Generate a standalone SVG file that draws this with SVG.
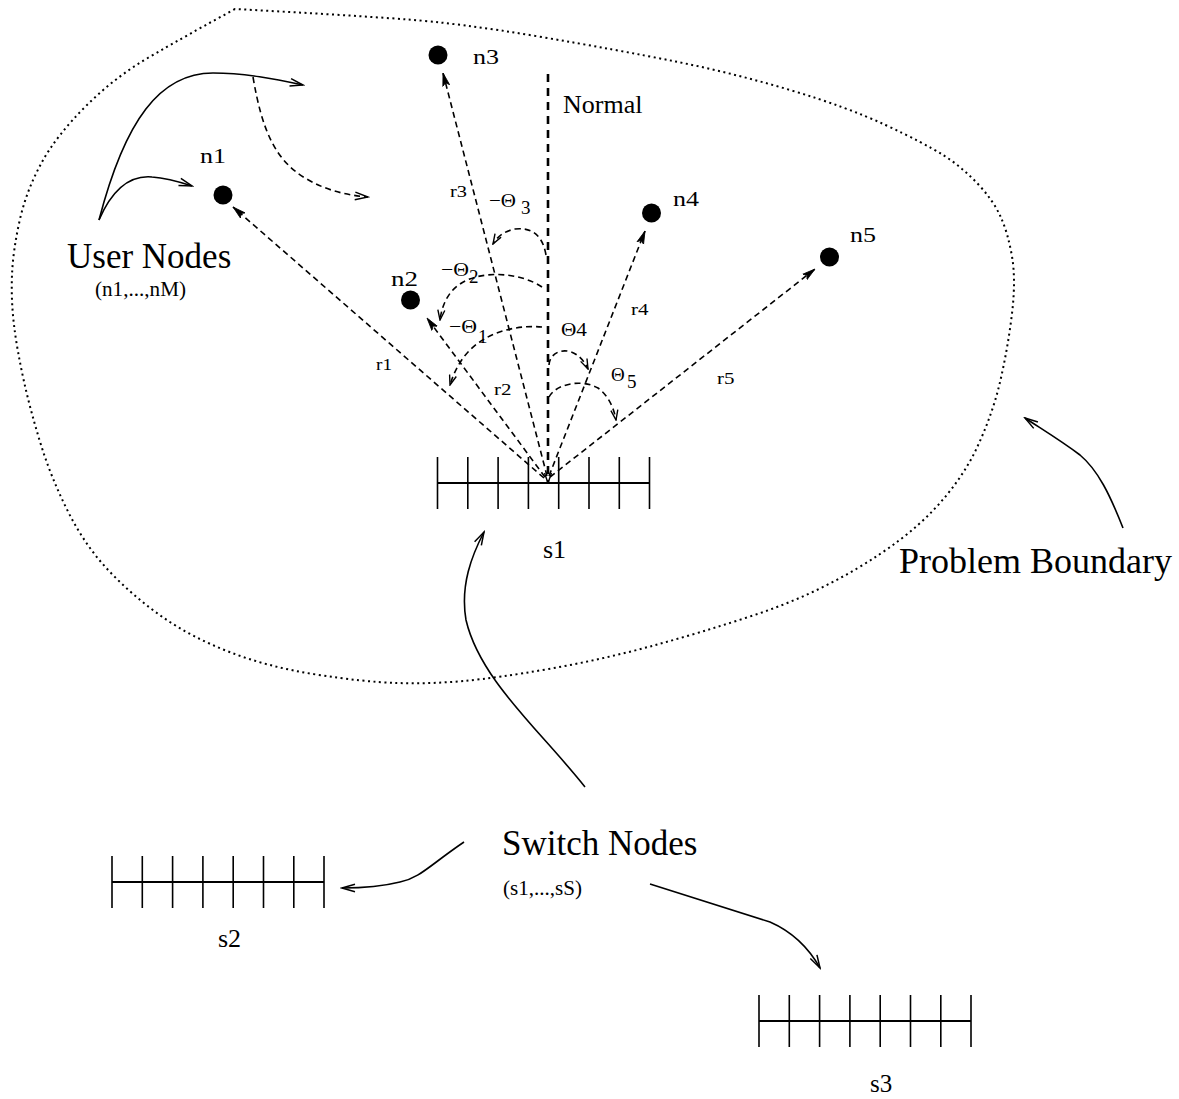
<svg xmlns="http://www.w3.org/2000/svg" width="1179" height="1099" viewBox="0 0 1179 1099">
  <style>
    .t { font-family: "Liberation Serif", "Times New Roman", serif; fill: #000; }
    .big { font-size: 35px; }
    .mid { font-size: 26px; }
    .lab { font-size: 22px; }
    .cap { font-size: 20px; }
    .rl { font-size: 17px; }
    .th { font-size: 19px; }
    .boundary { fill: none; stroke: #000; stroke-width: 2; stroke-dasharray: 2 3.5; }
    .solid { fill: none; stroke: #000; stroke-width: 1.6; }
    .dash { fill: none; stroke: #000; stroke-width: 1.6; stroke-dasharray: 6 4; }
    .normal { fill: none; stroke: #000; stroke-width: 2.6; stroke-dasharray: 8 6; }
    .bar { fill: none; stroke: #000; stroke-width: 2.2; }
    .tick { fill: none; stroke: #000; stroke-width: 1.6; }
    .dot { fill: #000; }
  </style>
  <defs>
    <marker id="open" markerUnits="userSpaceOnUse" markerWidth="16" markerHeight="10" viewBox="0 0 16 10" refX="14" refY="5" orient="auto">
      <path d="M1,1.2 L14,5 L1,8.8" fill="none" stroke="#000" stroke-width="1.5" stroke-dasharray="none"/>
    </marker>
    <marker id="barb" markerUnits="userSpaceOnUse" markerWidth="14" markerHeight="9" viewBox="0 0 14 9" refX="13" refY="4.5" orient="auto">
      <path d="M0,1 L13,4.5 L0,8 L3,4.5 Z" fill="#000" stroke="#000" stroke-width="0.8" stroke-dasharray="none"/>
    </marker>
    <marker id="small" markerUnits="userSpaceOnUse" markerWidth="12" markerHeight="9" viewBox="0 0 12 9" refX="11" refY="4.5" orient="auto">
      <path d="M1,1 L11,4.5 L1,8" fill="none" stroke="#000" stroke-width="1.4" stroke-dasharray="none"/>
    </marker>
    <g id="switch">
      <line class="bar" x1="0" y1="26" x2="212" y2="26"/>
      <path class="tick" d="M0,0 V52 M30.3,0 V52 M60.6,0 V52 M90.9,0 V52 M121.2,0 V52 M151.5,0 V52 M181.8,0 V52 M212,0 V52"/>
    </g>
  </defs>

  <rect width="1179" height="1099" fill="#fff"/>

  <!-- dotted problem boundary -->
  <path id="boundary" class="boundary" d="M235,9 L209.5,23 Q184,37 149.5,57 Q115,77 86,106 Q57,135 42,162 Q27,189 20,219 Q13,250 12,275 Q11,300 14,325 Q17,350 24,381.5 Q31,413 41.5,446.5 Q52,480 69,513.5 Q86,547 110,572 Q134,597 162.5,617 Q191,637 229.5,652 Q268,667 316,674.5 Q364,682 397,683 Q430,684 463.5,681 Q497,678 548.5,669 Q600,660 650,646.5 Q700,633 754.5,615 Q809,597 857,568.5 Q905,540 933.5,510 Q962,480 977.5,446.5 Q993,413 1000.5,380 Q1008,347 1012,313.5 Q1016,280 1012,256.5 Q1008,233 1000.5,216.5 Q993,200 977.5,183.5 Q962,167 943,155 Q924,143 885.5,125 Q847,107 790,90 Q733,73 675.5,61.5 Q618,50 538.5,36.5 Q459,23 401.5,19 Q344,15 289.5,12 Z"/>

  <!-- connectors -->
  <g id="connectors">
    <!-- radial dashed links from s1 to the user nodes -->
    <path class="dash" d="M544,478 L233,207" marker-end="url(#barb)"/>
    <path class="dash" d="M545,477 L427,318" marker-end="url(#barb)"/>
    <path class="dash" d="M547,476 L443,73" marker-end="url(#barb)"/>
    <path class="dash" d="M549,476 L645,231" marker-end="url(#barb)"/>
    <path class="dash" d="M550,477 L815,269" marker-end="url(#barb)"/>
    <!-- normal -->
    <path class="normal" d="M548,74 L548,483" marker-end="url(#small)"/>
    <!-- angle arcs -->
    <path class="dash" d="M546,255 Q541,226 515,229 Q500,232 493,244" marker-end="url(#small)"/>
    <path class="dash" d="M542,287 C520,272 480,270 460,284 C448,292 442,305 440,320" marker-end="url(#small)"/>
    <path class="dash" d="M542,327 C520,325 490,330 470,350 C460,360 454,372 450,385" marker-end="url(#small)"/>
    <path class="dash" d="M549,365 C550,348 576,343 588,369" marker-end="url(#small)"/>
    <path class="dash" d="M549,397 C555,385 580,378 598,388 C608,395 614,408 616,420" marker-end="url(#small)"/>
    <!-- callout arrows -->
    <path class="solid" d="M99,220 C125,120 160,73 213,73 C245,73 275,79 303,85" marker-end="url(#open)"/>
    <path class="solid" d="M99,220 C112,190 130,175 152,177 C168,178 180,182 192,186" marker-end="url(#open)"/>
    <path class="dash" d="M253,77 C262,130 275,160 305,178 C325,190 345,195 368,197" marker-end="url(#open)"/>
    <path class="solid" d="M585,787 C540,730 480,680 466,620 C460,585 472,555 484,532" marker-end="url(#open)"/>
    <path class="solid" d="M464,842 C430,865 420,878 400,882 C380,887 360,888 342,888" marker-end="url(#open)"/>
    <path class="solid" d="M650,884 L770,922 Q802,936 820,968" marker-end="url(#open)"/>
    <path class="solid" d="M1123,528 C1110,495 1098,470 1080,455 C1060,440 1040,428 1025,418" marker-end="url(#open)"/>
  </g>

  <!-- user nodes -->
  <g id="n1"><circle class="dot" cx="223" cy="195" r="9.5"/><text class="t lab" x="200" y="163" textLength="26" lengthAdjust="spacingAndGlyphs">n1</text></g>
  <g id="n2"><circle class="dot" cx="410.5" cy="300" r="9.5"/><text class="t lab" x="391" y="286" textLength="27" lengthAdjust="spacingAndGlyphs">n2</text></g>
  <g id="n3"><circle class="dot" cx="438" cy="55" r="9.5"/><text class="t lab" x="473" y="64" textLength="26" lengthAdjust="spacingAndGlyphs">n3</text></g>
  <g id="n4"><circle class="dot" cx="651.5" cy="213" r="9.5"/><text class="t lab" x="673" y="206" textLength="26" lengthAdjust="spacingAndGlyphs">n4</text></g>
  <g id="n5"><circle class="dot" cx="829.5" cy="257" r="9.5"/><text class="t lab" x="850" y="242" textLength="26" lengthAdjust="spacingAndGlyphs">n5</text></g>

  <!-- switch nodes -->
  <g id="s1"><use href="#switch" x="437.5" y="457"/><text class="t mid" x="543" y="558">s1</text></g>
  <g id="s2"><use href="#switch" x="112" y="856"/><text class="t mid" x="218" y="947">s2</text></g>
  <g id="s3"><use href="#switch" x="759" y="995"/><text class="t" font-size="25" x="870" y="1092">s3</text></g>

  <!-- link and angle labels -->
  <g id="labels">
    <text class="t mid" x="563" y="113">Normal</text>
    <text class="t rl" x="376" y="370" textLength="16" lengthAdjust="spacingAndGlyphs">r1</text>
    <text class="t rl" x="494" y="395" textLength="17.5" lengthAdjust="spacingAndGlyphs">r2</text>
    <text class="t rl" x="450" y="197" textLength="17" lengthAdjust="spacingAndGlyphs">r3</text>
    <text class="t rl" x="631" y="315" textLength="17.5" lengthAdjust="spacingAndGlyphs">r4</text>
    <text class="t rl" x="717" y="384" textLength="17.5" lengthAdjust="spacingAndGlyphs">r5</text>
    <text class="t th" x="489" y="207" textLength="27" lengthAdjust="spacingAndGlyphs">−Θ</text>
    <text class="t" font-size="19" x="521" y="214">3</text>
    <text class="t th" x="441" y="276" textLength="28" lengthAdjust="spacingAndGlyphs">−Θ</text>
    <text class="t th" x="469" y="283">2</text>
    <text class="t th" x="449" y="333" textLength="28" lengthAdjust="spacingAndGlyphs">−Θ</text>
    <text class="t th" x="478" y="343">1</text>
    <text class="t th" x="561" y="336" textLength="26" lengthAdjust="spacingAndGlyphs">Θ4</text>
    <text class="t th" x="611" y="381">Θ</text>
    <text class="t th" x="627" y="388">5</text>
  </g>

  <!-- callout captions -->
  <g id="user-nodes">
    <text class="t big" x="67" y="268">User Nodes</text>
    <text class="t cap" x="95" y="296" textLength="91" lengthAdjust="spacingAndGlyphs">(n1,...,nM)</text>
  </g>
  <g id="switch-nodes">
    <text class="t big" x="502" y="855">Switch Nodes</text>
    <text class="t cap" x="503" y="895" textLength="79" lengthAdjust="spacingAndGlyphs">(s1,...,sS)</text>
  </g>
  <g id="problem-boundary">
    <text class="t" font-size="36" x="899" y="573">Problem Boundary</text>
  </g>
</svg>
